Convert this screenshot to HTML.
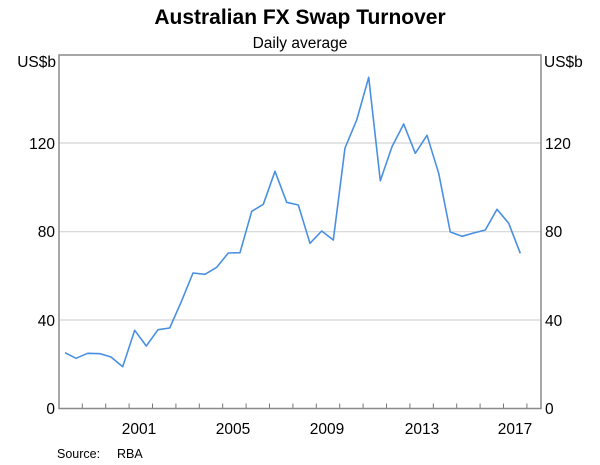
<!DOCTYPE html>
<html><head><meta charset="utf-8"><style>
html,body{margin:0;padding:0;background:#fff;}
svg{display:block;font-family:"Liberation Sans",Arial,sans-serif;}
</style></head><body>
<svg width="600" height="465" viewBox="0 0 600 465" xmlns="http://www.w3.org/2000/svg">
<text x="300" y="24" text-anchor="middle" font-size="21" font-weight="bold" fill="#000">Australian FX Swap Turnover</text>
<text x="300" y="48" text-anchor="middle" font-size="15.5" fill="#000">Daily average</text>
<text x="56" y="67" text-anchor="end" font-size="15.5">US$b</text>
<text x="544" y="67" text-anchor="start" font-size="15.5">US$b</text>
<g stroke="#d4d4d4" stroke-width="1.2">
<line x1="59" y1="143" x2="541" y2="143"/>
<line x1="59" y1="231.7" x2="541" y2="231.7"/>
<line x1="59" y1="320" x2="541" y2="320"/>
</g>
<g font-size="15.5" fill="#000">
<text x="55" y="149" text-anchor="end">120</text>
<text x="55" y="237" text-anchor="end">80</text>
<text x="55" y="326" text-anchor="end">40</text>
<text x="55" y="414" text-anchor="end">0</text>
<text x="545" y="149">120</text>
<text x="545" y="237">80</text>
<text x="545" y="326">40</text>
<text x="545" y="414">0</text>
<text x="139" y="434" text-anchor="middle">2001</text>
<text x="233" y="434" text-anchor="middle">2005</text>
<text x="327" y="434" text-anchor="middle">2009</text>
<text x="422" y="434" text-anchor="middle">2013</text>
<text x="515" y="434" text-anchor="middle">2017</text>
</g>
<text x="57" y="458" font-size="12.5">Source:</text>
<text x="117" y="458" font-size="12.5">RBA</text>
<g stroke="#777" stroke-width="1">
<path d="M82.3 408.5v-5M105.7 408.5v-5M129.1 408.5v-5M152.5 408.5v-5M175.9 408.5v-5M199.3 408.5v-5M222.7 408.5v-5M246.1 408.5v-5M269.5 408.5v-5M292.9 408.5v-5M316.3 408.5v-5M339.7 408.5v-5M363.1 408.5v-5M386.5 408.5v-5M409.9 408.5v-5M433.3 408.5v-5M456.7 408.5v-5M480.1 408.5v-5M503.5 408.5v-5M526.9 408.5v-5"/>
</g>
<rect x="59" y="55" width="482" height="353.5" fill="none" stroke="#8a8a8a" stroke-width="1.5"/>
<polyline fill="none" stroke="#4a90e2" stroke-width="1.6" stroke-linejoin="round" points="65,352.7 76,358.3 87.7,353.3 100,353.7 111,357 122.7,366.7 134.7,330.3 146.3,346 158,329.7 169.7,328 181.3,301.7 193,273 205,274.3 216.7,267.3 228.3,253 240,252.7 251.7,211.3 263.3,204.3 275,171.3 286.7,202.3 298.3,205 310,243.3 321.7,231 333.3,240 345,148 356.7,120 368.7,77.3 380.3,180.7 392,146.7 403.7,124 415.3,153.3 427,135.3 438.7,173.3 450.3,232 462,236.3 473.7,233 485.3,230 497,209.3 508.7,223.3 520.3,253.3"/>
</svg>
</body></html>
